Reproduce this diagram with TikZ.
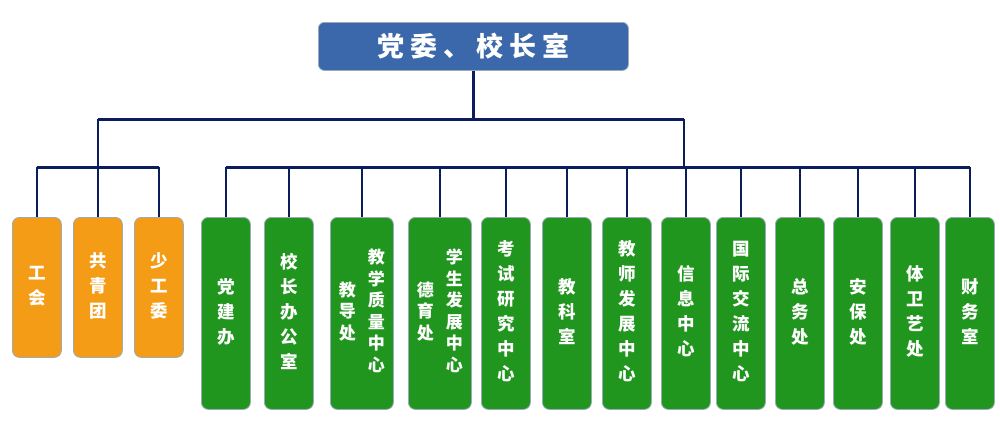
\documentclass[tikz,border=0pt]{standalone}
\usepackage{fontspec}
\newfontfamily\cjk{Noto Sans CJK SC}
\newfontfamily\cjktitle[LetterSpace=22]{Noto Sans CJK SC}
\definecolor{topblue}{HTML}{3A68AA}
\definecolor{orgbox}{HTML}{F59C17}
\definecolor{grnbox}{HTML}{21961F}
\definecolor{edgegray}{HTML}{9AAAB8}
\definecolor{navy}{HTML}{0B1D5C}
\newcommand{\vcol}[1]{\begin{tabular}[c]{@{}c@{}}#1\end{tabular}}
\tikzset{
  unitbox/.style={draw=edgegray, line width=0.8pt, rounded corners=7pt, text=white, inner sep=0pt, anchor=north west, font=\cjk\bfseries\fontsize{17.5}{25}\selectfont},
  orange/.style={unitbox, fill=orgbox, minimum width=49pt, minimum height=140pt},
  green/.style={unitbox, fill=grnbox, minimum height=192pt},
  twocol/.style={font=\cjk\bfseries\fontsize{17}{21.5}\selectfont},
  bus/.style={draw=navy, line width=3pt},
  drop/.style={draw=navy, line width=2.2pt},
}
\begin{document}
\begin{tikzpicture}[x=1pt,y=-1pt]
\useasboundingbox (0,0) rectangle (1000,434);
% root
\node[draw=edgegray, line width=0.8pt, fill=topblue, rounded corners=6pt, minimum width=310pt, minimum height=48pt, anchor=north west, text=white, inner sep=0pt, font=\cjktitle\bfseries\fontsize{27}{30}\selectfont] (root) at (318,22) {党委、校长室};
% orange
\node[orange] (gh) at (12,217) {\vcol{工\\会}};
\node[orange] (gqt) at (73,217) {\vcol{共\\青\\团}};
\node[orange] (sgw) at (134,217) {\vcol{少\\工\\委}};
% green
\node[green, minimum width=49pt] (djb) at (201,217) {\vcol{党\\建\\办}};
\node[green, minimum width=49pt] (xzb) at (264,217) {\vcol{校\\长\\办\\公\\室}};
\node[green, twocol, minimum width=63pt] (jdc) at (330,217) {\vcol{教\\导\\处}\hspace{12pt}\vcol{教\\学\\质\\量\\中\\心}};
\node[green, twocol, minimum width=63pt] (dyc) at (408,217) {\vcol{德\\育\\处}\hspace{12pt}\vcol{学\\生\\发\\展\\中\\心}};
\node[green, minimum width=49pt] (ksy) at (481,217) {\vcol{考\\试\\研\\究\\中\\心}};
\node[green, minimum width=49pt] (jks) at (542,217) {\vcol{教\\科\\室}};
\node[green, minimum width=49pt] (jsf) at (602,217) {\vcol{教\\师\\发\\展\\中\\心}};
\node[green, minimum width=49pt] (xxz) at (661,217) {\vcol{信\\息\\中\\心}};
\node[green, minimum width=49pt] (gjj) at (716,217) {\vcol{国\\际\\交\\流\\中\\心}};
\node[green, minimum width=49pt] (zwc) at (775,217) {\vcol{总\\务\\处}};
\node[green, minimum width=49pt] (abc) at (833,217) {\vcol{安\\保\\处}};
\node[green, minimum width=49pt] (twy) at (890,217) {\vcol{体\\卫\\艺\\处}};
\node[green, minimum width=49pt] (cws) at (945,217) {\vcol{财\\务\\室}};
% junctions
\coordinate (jl) at (98,119);
\coordinate (jr) at (684,119);
\coordinate (bl) at (98,167);
\coordinate (br) at (684,167);
% lines
\draw[drop] (root.south) -- (root.south |- jl);
\draw[bus] (jl) -- (jr);
\draw[drop] (jl) -- (bl);
\draw[drop] (jr) -- (br);
\draw[bus] (gh.north |- bl) -- (sgw.north |- bl);
\draw[bus] (djb.north |- br) -- (cws.north |- br);
\foreach \n in {gh,gqt,sgw,djb,xzb,jdc,dyc,ksy,jks,jsf,xxz,gjj,zwc,abc,twy,cws}
  \draw[drop] (\n.north |- bl) -- (\n.north);
\end{tikzpicture}
\end{document}
